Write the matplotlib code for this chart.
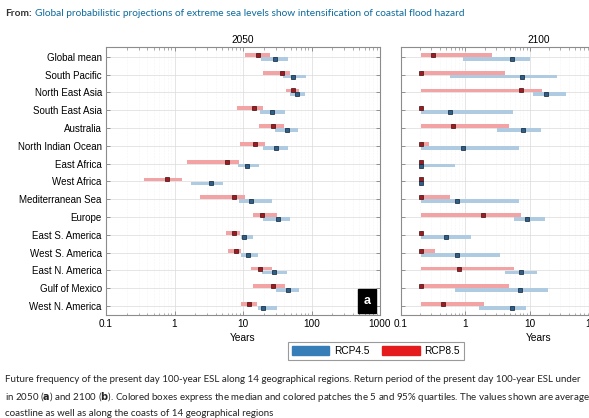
import numpy as np
import matplotlib
matplotlib.use("Agg")
import matplotlib.pyplot as plt
from matplotlib.patches import Patch
from matplotlib.ticker import FixedLocator, LogLocator, NullFormatter

plt.rcParams['font.family'] = ['Liberation Sans', 'DejaVu Sans']

# ---- data (return period in years: 5%, median, 95%) ----
regions = ["Global mean", "South Pacific", "North East Asia", "South East Asia",
           "Australia", "North Indian Ocean", "East Africa", "West Africa",
           "Mediterranean Sea", "Europe", "East S. America", "West S. America",
           "East N. America", "Gulf of Mexico", "West N. America"]

# 2050
r85_2050_lo = [10.6, 19.9, 41.9, 8.3, 17.1, 9.1, 1.51, 0.356, 2.39, 13.9, 5.57, 5.97, 13.2, 13.9, 9.4]
r85_2050_md = [16.7, 36.9, 53.9, 14.4, 27.4, 15.1, 5.9, 0.78, 7.5, 19.0, 7.4, 7.9, 17.7, 27.4, 12.4]
r85_2050_hi = [24.7, 49.2, 66.2, 19.9, 39.5, 21.1, 8.6, 1.30, 10.6, 31.1, 8.9, 9.4, 26.8, 40.9, 16.2]
r45_2050_lo = [18.6, 38.2, 49.2, 17.5, 29.0, 19.4, 8.4, 1.77, 8.6, 19.4, 9.2, 9.4, 19.2, 30.4, 16.7]
r45_2050_md = [29.0, 54.5, 61.8, 26.2, 43.3, 30.7, 11.3, 3.41, 13.2, 32.5, 10.5, 11.7, 28.4, 44.8, 19.9]
r45_2050_hi = [45.9, 83.2, 80.4, 41.4, 64.0, 45.9, 17.3, 5.08, 26.5, 49.2, 14.1, 16.7, 44.4, 65.5, 31.5]

# 2100
r85_2100_lo = [0.21, 0.21, 0.21, 0.21, 0.21, 0.21, 0.21, 0.21, 0.21, 0.21, 0.21, 0.21, 0.21, 0.21, 0.21]
r85_2100_md = [0.32, 0.21, 7.3, 0.21, 0.64, 0.21, 0.21, 0.21, 0.21, 1.87, 0.21, 0.21, 0.80, 0.21, 0.457]
r85_2100_hi = [2.62, 4.08, 15.7, 0.22, 4.76, 0.27, 0.21, 0.21, 0.59, 7.4, 0.22, 0.34, 5.70, 4.71, 1.97]
r45_2100_lo = [0.935, 0.58, 11.1, 0.21, 3.10, 0.21, 0.21, 0.21, 0.21, 5.77, 0.21, 0.21, 4.08, 0.685, 1.62]
r45_2100_md = [5.3, 7.5, 18.2, 0.58, 7.8, 0.91, 0.21, 0.21, 0.74, 9.1, 0.50, 0.755, 7.4, 6.98, 5.37]
r45_2100_hi = [10.2, 26.7, 36.4, 5.5, 15.2, 6.8, 0.70, 0.21, 6.8, 17.5, 1.22, 3.49, 13.0, 19.3, 8.87]

xticks = [0.1, 1, 10, 100, 1000]
xticklabels = ["0.1", "1", "10", "100", "1000"]

BLUE = "#377eb8"
RED = "#e41a1c"
BLUE_PATCH = "#afcbe2"
RED_PATCH = "#f4a3a4"
BLUE_MED = "#2c5f8c"
RED_MED = "#a3191f"

W, H = 589, 418
fig = plt.figure(figsize=(W / 100, H / 100), dpi=100)


def draw_panel(ax, lo45, md45, hi45, lo85, md85, hi85, xmax):
    y = np.arange(len(regions))
    off, h = 0.11, 0.21
    lo85, hi85 = np.array(lo85), np.array(hi85)
    lo45, hi45 = np.array(lo45), np.array(hi45)
    ax.barh(y - off, np.maximum(hi85 - lo85, 1e-4), left=lo85, height=h,
            color=RED_PATCH, linewidth=0, zorder=2)
    ax.barh(y + off, np.maximum(hi45 - lo45, 1e-4), left=lo45, height=h,
            color=BLUE_PATCH, linewidth=0, zorder=2)
    ax.plot(md85, y - off, 's', ms=3.3, mfc=RED_MED, mec='#3a1010', mew=0.5, zorder=3)
    ax.plot(md45, y + off, 's', ms=3.3, mfc=BLUE_MED, mec='#102030', mew=0.5, zorder=3)

    ax.set_xscale('log')
    ax.set_xlim(0.1, xmax)
    ax.set_ylim(len(regions) - 0.5, -0.55)
    ax.set_yticks(y)
    ax.xaxis.set_major_locator(FixedLocator(xticks))
    ax.set_xticklabels(xticklabels)
    ax.xaxis.set_minor_locator(LogLocator(base=10, subs=np.arange(2, 10)))
    ax.xaxis.set_minor_formatter(NullFormatter())
    ax.tick_params(axis='both', which='both', direction='in', top=True, right=True,
                   color='#6e6e6e', labelsize=7.2, pad=3)
    ax.tick_params(which='major', length=3, width=0.5)
    ax.tick_params(which='minor', length=1.8, width=0.4)
    ax.grid(True, which='major', color='#dadada', lw=0.5, zorder=0)
    ax.grid(True, which='minor', axis='x', color='#ececec', lw=0.4, ls=':', zorder=0)
    ax.set_axisbelow(True)
    for s in ax.spines.values():
        s.set_color('#8c8c8c')
        s.set_linewidth(0.8)
    ax.set_xlabel("Years", fontsize=7.3, labelpad=3)


# left panel (2050)
ax1 = fig.add_axes([106 / W, (H - 315) / H, 274 / W, 268 / H])
draw_panel(ax1, r45_2050_lo, r45_2050_md, r45_2050_hi,
           r85_2050_lo, r85_2050_md, r85_2050_hi, 1000)
ax1.set_yticklabels(regions, fontsize=7.0)
ax1.set_title("2050", fontsize=7.3, pad=3)
ax1.text(0.953, 0.052, "a", transform=ax1.transAxes, color='white', fontsize=9,
         fontweight='bold', ha='center', va='center', zorder=5,
         bbox=dict(boxstyle='square,pad=0.45', fc='black', ec='black'))

# right panel (2100), runs past the figure edge
ax2 = fig.add_axes([400.7 / W, (H - 315) / H, 275 / W, 268 / H])
draw_panel(ax2, r45_2100_lo, r45_2100_md, r45_2100_hi,
           r85_2100_lo, r85_2100_md, r85_2100_hi, 10 ** (-1 + 275 / 64.5))
ax2.set_yticklabels([])
ax2.set_title("2100", fontsize=7.3, pad=3)

# legend
handles = [Patch(color=BLUE, label="RCP4.5"), Patch(color=RED, label="RCP8.5")]
leg = fig.legend(handles=handles, loc='center', ncol=2, fontsize=7.3,
                 bbox_to_anchor=(376 / W, 1 - 351 / H), fancybox=False,
                 handlelength=3.7, handleheight=0.9, columnspacing=1.2,
                 handletextpad=0.5, borderpad=0.35, framealpha=1)
leg.get_frame().set_edgecolor('#9a9a9a')
leg.get_frame().set_linewidth(0.8)

# page header and caption
hfont = ['Lato', 'DejaVu Sans']
t_from = fig.text(5 / W, 1 - 14 / H, "From:", fontsize=7.3, color='#333333',
                  family=hfont, fontweight='bold', va='center')
renderer = fig.canvas.get_renderer()
x_link = t_from.get_window_extent(renderer).x1 + 3
fig.text(x_link / W, 1 - 14 / H,
         "Global probabilistic projections of extreme sea levels show intensification of coastal flood hazard",
         fontsize=7.3, color='#0b6a9c', family=hfont, va='center')

caption = [
    "Future frequency of the present day 100-year ESL along 14 geographical regions. Return period of the present day 100-year ESL under",
    "in 2050 ($\\bf{a}$) and 2100 ($\\bf{b}$). Colored boxes express the median and colored patches the 5 and 95% quartiles. The values shown are average",
    "coastline as well as along the coasts of 14 geographical regions",
]
for i, line in enumerate(caption):
    fig.text(5 / W, 1 - (380 + 17 * i) / H, line, fontsize=7.0, color='#222222',
             family=hfont, va='center')

fig.savefig("out.png", dpi=100)
